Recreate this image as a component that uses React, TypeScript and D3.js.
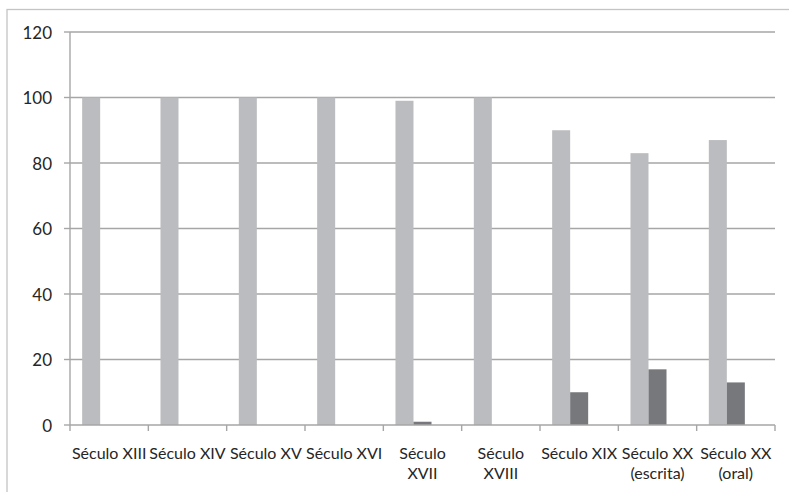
import React from "react";
import * as d3 from "d3";

const categories = [
  "Século XIII",
  "Século XIV",
  "Século XV",
  "Século XVI",
  "Século XVII",
  "Século XVIII",
  "Século XIX",
  "Século XX (escrita)",
  "Século XX (oral)",
];
const categoryLines = [
  ["Século XIII"],
  ["Século XIV"],
  ["Século XV"],
  ["Século XVI"],
  ["Século", "XVII"],
  ["Século", "XVIII"],
  ["Século XIX"],
  ["Século XX", "(escrita)"],
  ["Século XX", "(oral)"],
];
const seriesKeys = ["s1", "s2", "s3"];
const series1 = [100, 100, 100, 100, 99, 100, 90, 83, 87];
const series2 = [0, 0, 0, 0, 1, 0, 10, 17, 13];
const seriesColors = ["#bbbcbf", "#77787b"];
const yTicks = [0, 20, 40, 60, 80, 100, 120];

const W = 789;
const H = 492;
const left = 70;
const right = 775;
const top = 32;
const bottom = 425;
const font = "Lato, 'Open Sans', sans-serif";

export default function App() {
  const x = d3.scaleBand<string>().domain(categories).range([left, right]).paddingInner(0).paddingOuter(0);
  const x1 = d3
    .scaleBand<string>()
    .domain(seriesKeys)
    .range([0, x.bandwidth()])
    .paddingOuter(0.675)
    .paddingInner(0);
  const y = d3.scaleLinear().domain([0, 120]).range([bottom, top]);
  const data = [series1, series2];

  return (
    <svg width={W} height={H} style={{ position: "absolute", left: 0, top: 0, background: "#fff" }}>
      <rect x={7} y={9.5} width={W + 10} height={H + 10} fill="#fff" stroke="#c4c4c4" strokeWidth={1.3} />
      {yTicks.map((t) => (
        <g key={t}>
          {t > 0 && <line x1={left} x2={right} y1={y(t)} y2={y(t)} stroke="#a6a6a6" strokeWidth={1.4} />}
          <line x1={left - 6} x2={left} y1={y(t)} y2={y(t)} stroke="#a6a6a6" strokeWidth={1.4} />
          <text
            x={52}
            y={y(t)}
            textAnchor="end"
            dominantBaseline="central"
            fontFamily={font}
            fontSize={17}
            fill="#262626"
          >
            {t}
          </text>
        </g>
      ))}
      {data.map((vals, si) =>
        vals.map((v, i) => (
          <rect
            key={`${si}-${i}`}
            x={(x(categories[i]) as number) + (x1(seriesKeys[si]) as number)}
            y={y(v)}
            width={x1.bandwidth()}
            height={bottom - y(v)}
            fill={seriesColors[si]}
          />
        ))
      )}
      <line x1={left} x2={left} y1={top} y2={bottom} stroke="#a6a6a6" strokeWidth={1.4} />
      <line x1={left} x2={right} y1={bottom} y2={bottom} stroke="#a6a6a6" strokeWidth={1.4} />
      {categories.map((c, i) => (
        <line
          key={`t${i}`}
          x1={(x(c) as number)}
          x2={(x(c) as number)}
          y1={bottom}
          y2={bottom + 6}
          stroke="#a6a6a6"
          strokeWidth={1.4}
        />
      ))}
      <line x1={right} x2={right} y1={bottom} y2={bottom + 6} stroke="#a6a6a6" strokeWidth={1.4} />
      {categories.map((c, i) => (
        <text
          key={`l${i}`}
          x={(x(c) as number) + x.bandwidth() / 2}
          y={452}
          textAnchor="middle"
          fontFamily={font}
          fontSize={16}
          fill="#262626"
        >
          {categoryLines[i].map((ln, j) => (
            <tspan key={j} x={(x(c) as number) + x.bandwidth() / 2} y={452 + j * 20} dominantBaseline="central">
              {ln}
            </tspan>
          ))}
        </text>
      ))}
    </svg>
  );
}
